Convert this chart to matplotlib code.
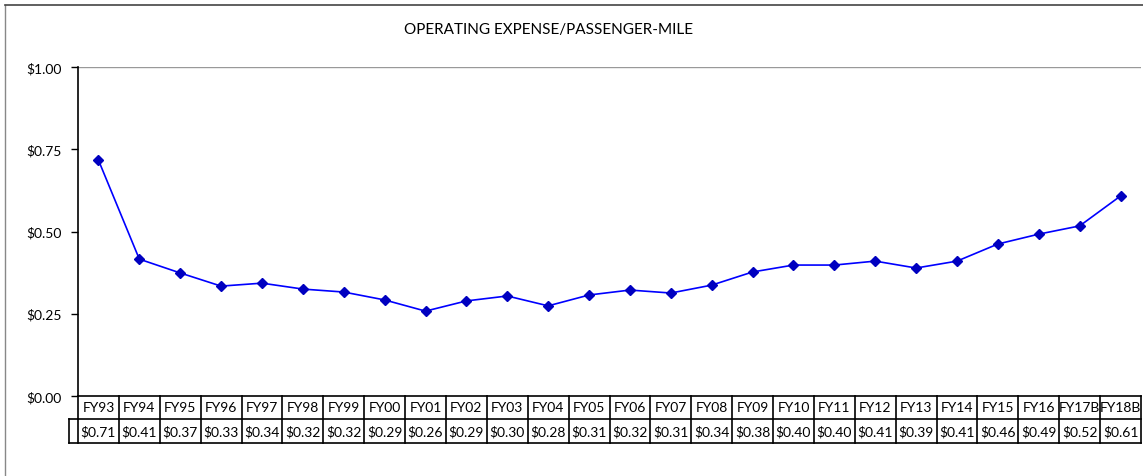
import matplotlib
matplotlib.use("Agg")
import matplotlib.pyplot as plt
from matplotlib.lines import Line2D
import matplotlib.transforms as mtransforms

categories = ["FY93", "FY94", "FY95", "FY96", "FY97", "FY98", "FY99", "FY00", "FY01",
              "FY02", "FY03", "FY04", "FY05", "FY06", "FY07", "FY08", "FY09", "FY10",
              "FY11", "FY12", "FY13", "FY14", "FY15", "FY16", "FY17B", "FY18B"]
values = [0.717, 0.416, 0.374, 0.334, 0.343, 0.325, 0.316, 0.292, 0.258, 0.289,
          0.304, 0.274, 0.307, 0.322, 0.313, 0.337, 0.377, 0.398, 0.398, 0.410,
          0.389, 0.410, 0.462, 0.492, 0.517, 0.608]
value_labels = ["$0.71", "$0.41", "$0.37", "$0.33", "$0.34", "$0.32", "$0.32", "$0.29",
                "$0.26", "$0.29", "$0.30", "$0.28", "$0.31", "$0.32", "$0.31", "$0.34",
                "$0.38", "$0.40", "$0.40", "$0.41", "$0.39", "$0.41", "$0.46", "$0.49",
                "$0.52", "$0.61"]
y_ticks = [0.0, 0.25, 0.5, 0.75, 1.0]
y_tick_labels = ["$0.00", "$0.25", "$0.50", "$0.75", "$1.00"]
title = "OPERATING EXPENSE/PASSENGER-MILE"

plt.rcParams['font.family'] = ['Lato', 'DejaVu Sans']

W, H = 1143, 477
fig = plt.figure(figsize=(W / 100, H / 100), dpi=100)
ax = fig.add_axes([78 / W, 1 - 397 / H, (1141 - 78) / W, (397 - 68) / H])

x = list(range(len(categories)))
ax.plot(x, values, color="#0000FF", lw=1.2, marker="D", markersize=5.5,
        markerfacecolor="#0000C0", markeredgecolor="#0000C0", zorder=3)

ax.set_xlim(-0.5, len(categories) - 0.5)
ax.set_ylim(0, 1.0)
ax.set_yticks(y_ticks)
ax.set_yticklabels(y_tick_labels, fontsize=10)
ax.tick_params(axis='y', direction='out', length=5, width=1, pad=7, colors='black')
ax.set_xticks([])
for s in ['top', 'right']:
    ax.spines[s].set_visible(False)
ax.spines['left'].set_linewidth(1.2)
ax.spines['bottom'].set_linewidth(1.2)
ax.axhline(1.0, color="#999999", lw=1.0, zorder=1)

fig.text(549 / W, 1 - 30 / H, title, ha='center', va='center', fontsize=11)

# Data table beneath the axis
ax_h = 397 - 68
r1 = -23 / ax_h
r2 = -47 / ax_h
trans = mtransforms.blended_transform_factory(ax.transData, ax.transAxes)
n = len(categories)
left = -0.5
right = n - 0.5
key_left = -0.5 - 9 / ((1141 - 78) / n)
lw = 1.2
kw = dict(transform=trans, color='black', lw=lw, clip_on=False)
# horizontal lines
ax.add_line(Line2D([left, right], [r1, r1], **kw))
ax.add_line(Line2D([key_left, right], [r2, r2], **kw))
# vertical lines
for i in range(n + 1):
    xb = i - 0.5
    ax.add_line(Line2D([xb, xb], [0, r2], **kw))
ax.add_line(Line2D([key_left, key_left], [r1, r2], **kw))
ax.add_line(Line2D([key_left, left], [r1, r1], **kw))
for i, (c, v) in enumerate(zip(categories, value_labels)):
    ax.text(i, r1 / 2, c, transform=trans, ha='center', va='center', fontsize=10, clip_on=False)
    ax.text(i, (r1 + r2) / 2, v, transform=trans, ha='center', va='center', fontsize=10, clip_on=False)

# figure border
fig.add_artist(Line2D([5 / W, 5 / W], [0, 1 - 6 / H], transform=fig.transFigure, color='#888888', lw=1))
fig.add_artist(Line2D([5 / W, 1], [1 - 6 / H, 1 - 6 / H], transform=fig.transFigure, color='#444444', lw=1.2))

fig.savefig("out.png", dpi=100)
